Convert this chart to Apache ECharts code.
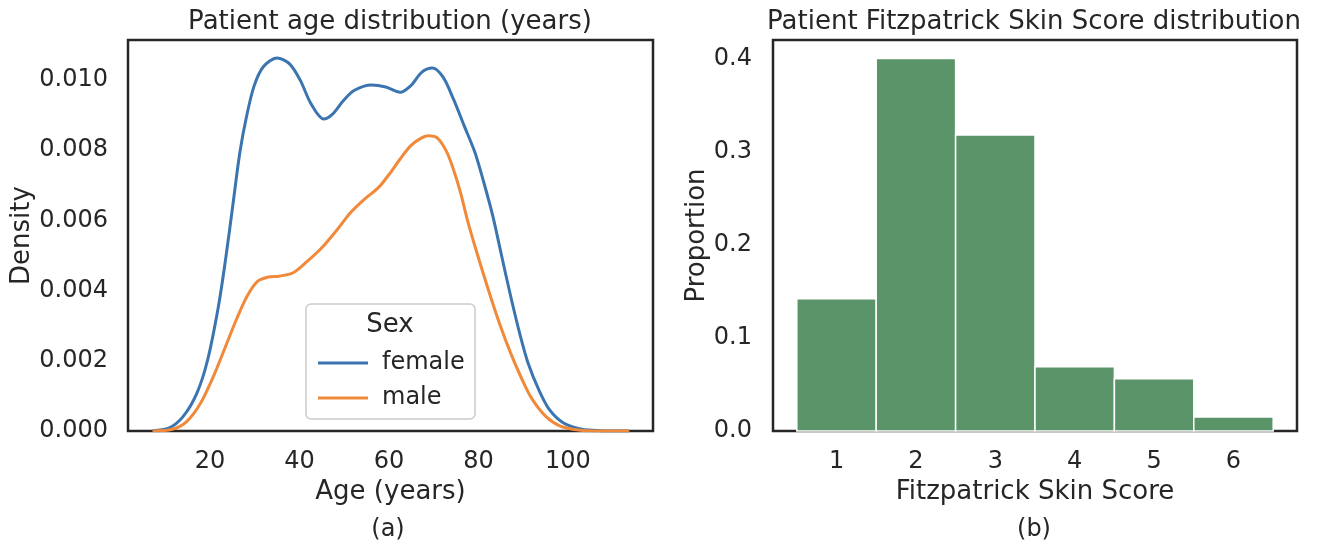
<!DOCTYPE html>
<html>
<head>
<meta charset="utf-8">
<script src="https://cdn.jsdelivr.net/npm/echarts@6/dist/echarts.min.js"></script>
<style>
  html, body { margin: 0; padding: 0; background: #fff; }
  #main { width: 1320px; height: 550px; }
</style>
</head>
<body>
<div id="main"></div>
<script>
// ---- data ----
const femaleAge = [7.2, 10.8, 14.0, 17.1, 19.5, 21.9, 23.5, 25.1, 26.7, 28.3, 29.9, 31.9, 35.0, 37.8, 40.2, 42.6, 45.4, 47.4, 49.8, 52.2, 56.1, 59.3, 62.5, 64.9, 67.3, 69.7, 72.1, 74.4, 76.8, 79.2, 81.2, 83.2, 85.2, 87.2, 89.2, 91.1, 93.5, 95.9, 99.1, 103.1, 107.1, 113.7];
const femaleDensity = [0.00001, 0.00008, 0.00041, 0.00108, 0.00203, 0.00355, 0.00489, 0.00641, 0.00794, 0.00903, 0.00984, 0.01037, 0.01063, 0.01046, 0.00999, 0.00932, 0.00889, 0.00903, 0.00941, 0.00970, 0.00986, 0.00980, 0.00965, 0.00984, 0.01022, 0.01034, 0.01008, 0.00946, 0.00870, 0.00794, 0.00708, 0.00613, 0.00498, 0.00384, 0.00279, 0.00193, 0.00117, 0.00060, 0.00022, 0.00005, 0.00001, 0];

const maleAge = [7.2, 11.6, 14.8, 17.9, 21.1, 23.5, 25.9, 28.3, 30.7, 33.1, 35.4, 38.6, 41.8, 45.0, 48.2, 51.4, 54.5, 57.7, 60.1, 62.5, 64.9, 67.3, 68.9, 70.9, 72.8, 74.4, 76.0, 77.6, 79.2, 80.8, 82.8, 84.8, 87.2, 89.6, 91.9, 95.1, 98.3, 102.3, 107.1, 113.7];
const maleDensity = [0, 0.00005, 0.00027, 0.00079, 0.00165, 0.00241, 0.00317, 0.00384, 0.00427, 0.00439, 0.00441, 0.00451, 0.00484, 0.00522, 0.00570, 0.00622, 0.00660, 0.00694, 0.00732, 0.00775, 0.00813, 0.00835, 0.00841, 0.00834, 0.00798, 0.00746, 0.00679, 0.00598, 0.00527, 0.00460, 0.00379, 0.00303, 0.00222, 0.00151, 0.00093, 0.00041, 0.00014, 0.00003, 0, 0];

const skinScores = [1, 2, 3, 4, 5, 6];
const skinProportion = [0.142, 0.400, 0.318, 0.069, 0.056, 0.015];

const ageTicks = [20, 40, 60, 80, 100];
const densityTicks = [0, 0.002, 0.004, 0.006, 0.008, 0.010];
const proportionTicks = [0, 0.1, 0.2, 0.3, 0.4];

// ---- styling ----
const FONT = 'DejaVu Sans';
const INK = '#262626';
const BLUE = '#3a75b0';
const ORANGE = '#f08a3a';
const GREEN = '#5a9468';

function pairs(xs, ys) {
  return xs.map((x, i) => [x, ys[i]]);
}

function valueAxis(gridIndex, min, max, ticks, digits, margin, name, nameGap, rotate) {
  return {
    type: 'value',
    gridIndex: gridIndex,
    min: min,
    max: max,
    name: name,
    nameLocation: 'middle',
    nameGap: nameGap,
    nameRotate: rotate,
    nameTextStyle: { fontFamily: FONT, fontSize: 26, color: INK },
    axisLine: { show: false },
    axisTick: { show: false },
    splitLine: { show: false },
    axisLabel: {
      customValues: ticks,
      margin: margin,
      fontFamily: FONT,
      fontSize: 24,
      color: INK,
      formatter: v => digits === null ? String(v) : v.toFixed(digits)
    }
  };
}

function renderBar(params, api) {
  const x = api.value(0);
  const y = api.value(1);
  const p0 = api.coord([x - 0.5, y]);
  const p1 = api.coord([x + 0.5, 0]);
  return {
    type: 'rect',
    shape: { x: p0[0], y: p0[1], width: p1[0] - p0[0], height: p1[1] - p0[1] },
    style: { fill: GREEN, stroke: '#ffffff', lineWidth: 1.5 }
  };
}

function centeredText(text, x, y, size) {
  return {
    type: 'text', x: x, y: y, z: 6,
    style: {
      text: text, font: size + 'px "DejaVu Sans"', fill: INK,
      align: 'center', verticalAlign: 'middle', textAlign: 'center', textVerticalAlign: 'middle'
    }
  };
}

const chart = echarts.init(document.getElementById('main'), null, { renderer: 'canvas' });

const option = {
  backgroundColor: '#ffffff',
  animation: false,
  grid: [
    { left: 128, top: 40, width: 525, height: 391, show: true, borderColor: INK, borderWidth: 2.5, backgroundColor: 'transparent' },
    { left: 773, top: 40, width: 524, height: 391, show: true, borderColor: INK, borderWidth: 2.5, backgroundColor: 'transparent' }
  ],
  xAxis: [
    valueAxis(0, 1.7, 119, ageTicks, null, 19, 'Age (years)', 46, 0),
    valueAxis(1, 0.2, 6.8, skinScores, null, 19, 'Fitzpatrick Skin Score', 46, 0)
  ],
  yAxis: [
    valueAxis(0, 0, 0.01114, densityTicks, 3, 20, 'Density', 92, 90),
    valueAxis(1, 0, 0.42, proportionTicks, 1, 21, 'Proportion', 63, 90)
  ],
  legend: {
    orient: 'vertical',
    left: 313,
    top: 344,
    itemWidth: 50,
    itemHeight: 3,
    itemGap: 7,
    selectedMode: false,
    z: 10,
    data: [
      { name: 'female', icon: 'rect' },
      { name: 'male', icon: 'rect' }
    ],
    textStyle: { fontFamily: FONT, fontSize: 24, color: INK, lineHeight: 28, padding: [0, 0, 0, 9] }
  },
  graphic: [
    {
      type: 'rect', z: 5,
      shape: { x: 306, y: 304, width: 169, height: 115, r: 5 },
      style: { fill: 'rgba(255,255,255,0.8)', stroke: '#cccccc', lineWidth: 1.5 }
    },
    centeredText('Sex', 390, 325, 26),
    centeredText('Patient age distribution (years)', 390, 22, 26),
    centeredText('Patient Fitzpatrick Skin Score distribution', 1034, 22, 26),
    centeredText('(a)', 388, 530, 24),
    centeredText('(b)', 1034, 530, 24)
  ],
  series: [
    {
      name: 'female',
      type: 'line',
      xAxisIndex: 0,
      yAxisIndex: 0,
      data: pairs(femaleAge, femaleDensity),
      showSymbol: false,
      smooth: 0.3,
      color: BLUE,
      lineStyle: { color: BLUE, width: 3 }
    },
    {
      name: 'male',
      type: 'line',
      xAxisIndex: 0,
      yAxisIndex: 0,
      data: pairs(maleAge, maleDensity),
      showSymbol: false,
      smooth: 0.3,
      color: ORANGE,
      lineStyle: { color: ORANGE, width: 3 }
    },
    {
      name: 'proportion',
      type: 'custom',
      xAxisIndex: 1,
      yAxisIndex: 1,
      renderItem: renderBar,
      encode: { x: 0, y: 1 },
      data: pairs(skinScores, skinProportion)
    }
  ]
};

chart.setOption(option);
</script>
</body>
</html>
